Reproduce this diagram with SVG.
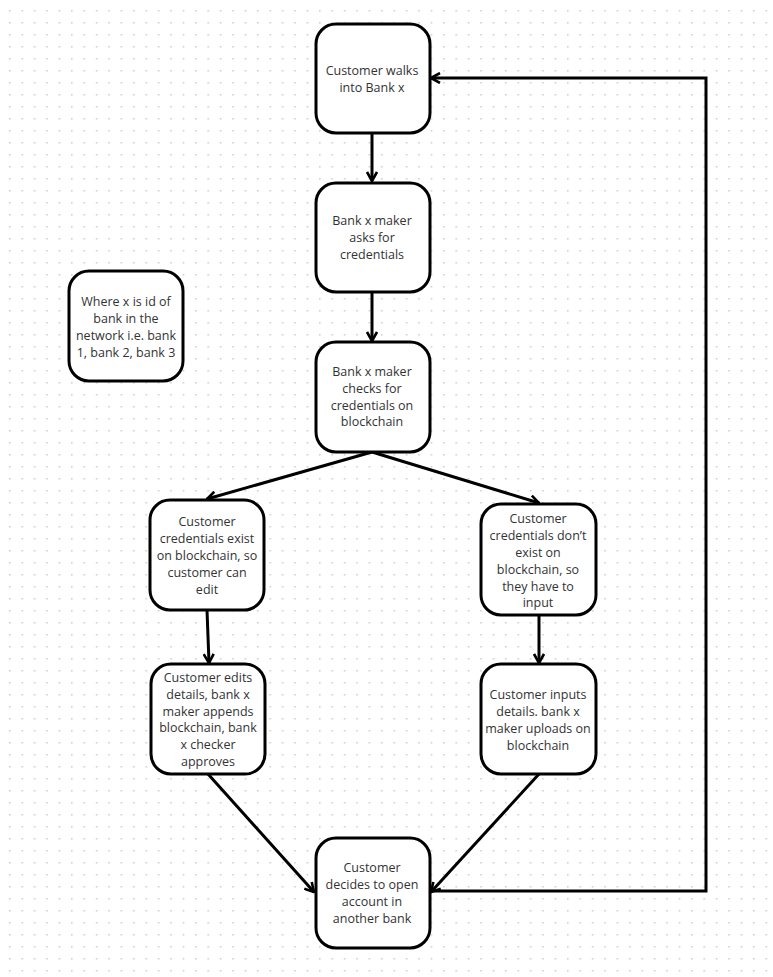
<svg xmlns="http://www.w3.org/2000/svg" width="773" height="977" viewBox="0 0 773 977">
<defs>
<pattern id="dots" x="9" y="10" width="12.4" height="12" patternUnits="userSpaceOnUse">
<circle cx="0.8" cy="0.8" r="0.9" fill="#cfcfcf"/>
</pattern>
<marker id="arr" viewBox="0 0 12 12" refX="11" refY="6" markerWidth="12" markerHeight="12" markerUnits="userSpaceOnUse" orient="auto">
<path d="M2,1 L11,6 L2,11" fill="none" stroke="#000" stroke-width="2.6" stroke-linejoin="miter"/>
</marker>
<style>
.box{fill:#fff;stroke:#000;stroke-width:3}
.t{font-family:"Open Sans","Liberation Sans",sans-serif;font-size:12.5px;fill:#333;text-anchor:middle}
.c{fill:none;stroke:#000;stroke-width:3}
</style>
</defs>
<rect width="773" height="977" fill="#fff"/>
<rect width="773" height="977" fill="url(#dots)"/>
<g id="connectors">
<line class="c" x1="372" y1="133" x2="372" y2="181" marker-end="url(#arr)"/>
<line class="c" x1="372" y1="292" x2="372" y2="341" marker-end="url(#arr)"/>
<line class="c" x1="372" y1="452" x2="207" y2="499" marker-end="url(#arr)"/>
<line class="c" x1="372" y1="452" x2="539" y2="503" marker-end="url(#arr)"/>
<line class="c" x1="207" y1="610" x2="209" y2="663" marker-end="url(#arr)"/>
<line class="c" x1="539" y1="615" x2="539" y2="663" marker-end="url(#arr)"/>
<line class="c" x1="208" y1="774" x2="314" y2="892" marker-end="url(#arr)"/>
<line class="c" x1="539" y1="774" x2="431" y2="892" marker-end="url(#arr)"/>
<polyline class="c" points="430,891 706,891 706,78 431,78" marker-end="url(#arr)"/>
</g>
<g id="n1"><rect class="box" x="316" y="24" width="114" height="109" rx="20"/>
<text class="t" x="372" y="75">Customer walks</text><text class="t" x="372" y="91.5">into Bank x</text></g>
<g id="n2"><rect class="box" x="316" y="183" width="114" height="109" rx="20"/>
<text class="t" x="372" y="224.5">Bank x maker</text><text class="t" x="372" y="241.5">asks for</text><text class="t" x="372" y="258.5">credentials</text></g>
<g id="n3"><rect class="box" x="316" y="342" width="114" height="110" rx="20"/>
<text class="t" x="372" y="375.5">Bank x maker</text><text class="t" x="372" y="392.5">checks for</text><text class="t" x="372" y="409.5">credentials on</text><text class="t" x="372" y="426">blockchain</text></g>
<g id="note"><rect class="box" x="69" y="271" width="114" height="110" rx="20"/>
<text class="t" x="126" y="305.5">Where x is id of</text><text class="t" x="126" y="322.5">bank in the</text><text class="t" x="126" y="339.5">network i.e. bank</text><text class="t" x="126" y="356.5">1, bank 2, bank 3</text></g>
<g id="n4"><rect class="box" x="150" y="500" width="114" height="110" rx="20"/>
<text class="t" x="207" y="525.5">Customer</text><text class="t" x="207" y="542.5">credentials exist</text><text class="t" x="207" y="559.5">on blockchain, so</text><text class="t" x="207" y="576.5">customer can</text><text class="t" x="207" y="593.5">edit</text></g>
<g id="n5"><rect class="box" x="481" y="504" width="115" height="111" rx="20"/>
<text class="t" x="538" y="522.5">Customer</text><text class="t" x="538" y="539.5">credentials don’t</text><text class="t" x="538" y="556.5">exist on</text><text class="t" x="538" y="573.5">blockchain, so</text><text class="t" x="538" y="590.5">they have to</text><text class="t" x="538" y="606.5">input</text></g>
<g id="n6"><rect class="box" x="151" y="664" width="114" height="110" rx="20"/>
<text class="t" x="208" y="681.5">Customer edits</text><text class="t" x="208" y="698.5">details, bank x</text><text class="t" x="208" y="715.5">maker appends</text><text class="t" x="208" y="731.5">blockchain, bank</text><text class="t" x="208" y="748.5">x checker</text><text class="t" x="208" y="765.5">approves</text></g>
<g id="n7"><rect class="box" x="481" y="664" width="115" height="110" rx="20"/>
<text class="t" x="538" y="698.5">Customer inputs</text><text class="t" x="538" y="715.5">details. bank x</text><text class="t" x="538" y="732.5">maker uploads on</text><text class="t" x="538" y="749.5">blockchain</text></g>
<g id="n8"><rect class="box" x="316" y="838" width="114" height="110" rx="20"/>
<text class="t" x="372" y="871.5">Customer</text><text class="t" x="372" y="888.5">decides to open</text><text class="t" x="372" y="905.5">account in</text><text class="t" x="372" y="922.5">another bank</text></g>
</svg>
